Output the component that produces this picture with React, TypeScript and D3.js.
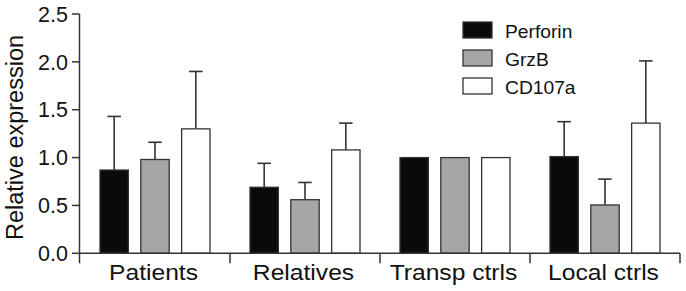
import React from "react";
import * as d3 from "d3";

const categories = ["Patients", "Relatives", "Transp ctrls", "Local ctrls"];
const seriesNames = ["Perforin", "GrzB", "CD107a"];
const perforinMean = [0.87, 0.69, 1.0, 1.01];
const perforinErr = [0.56, 0.25, 0, 0.365];
const grzbMean = [0.98, 0.56, 1.0, 0.505];
const grzbErr = [0.18, 0.18, 0, 0.27];
const cd107aMean = [1.3, 1.08, 1.0, 1.36];
const cd107aErr = [0.6, 0.28, 0, 0.65];
const yTicks = [0, 0.5, 1.0, 1.5, 2.0, 2.5];

const fills = ["#0a0a0a", "#a6a6a6", "#ffffff"];
const means = [perforinMean, grzbMean, cd107aMean];
const errs = [perforinErr, grzbErr, cd107aErr];

export default function App() {
  const W = 686, H = 291;
  const x0 = d3.scaleBand<string>().domain(categories).range([80, 680]).padding(0);
  const x1 = d3
    .scaleBand<string>()
    .domain(seriesNames)
    .range([20, 130])
    .paddingInner(0.305)
    .paddingOuter(0);
  const y = d3.scaleLinear().domain([0, 2.5]).range([253.3, 14]);
  const stroke = "#333";
  const font = "'Liberation Sans', Arial, Helvetica, sans-serif";
  const capW = 13.5;

  return (
    <svg
      width={W}
      height={H}
      style={{ position: "absolute", left: 0, top: 0, background: "#fff" }}
      fontFamily={font}
    >
      {/* bars */}
      {categories.map((c, ci) => (
        <g key={c}>
          {seriesNames.map((s, si) => {
            const bx = (x0(c) as number) + (x1(s) as number);
            const bw = x1.bandwidth();
            const m = means[si][ci];
            const e = errs[si][ci];
            const cx = bx + bw / 2;
            return (
              <g key={s}>
                {e > 0 && (
                  <g stroke={stroke} strokeWidth={1.6}>
                    <line x1={cx} x2={cx} y1={y(m)} y2={y(m + e)} />
                    <line x1={cx - capW / 2} x2={cx + capW / 2} y1={y(m + e)} y2={y(m + e)} />
                  </g>
                )}
                <rect
                  x={bx}
                  y={y(m)}
                  width={bw}
                  height={y(0) - y(m)}
                  fill={fills[si]}
                  stroke={stroke}
                  strokeWidth={1.3}
                />
              </g>
            );
          })}
        </g>
      ))}

      {/* y axis */}
      <line x1={79.5} x2={79.5} y1={y(2.5)} y2={y(0)} stroke={stroke} strokeWidth={1.5} />
      {yTicks.map((t) => (
        <g key={t}>
          <line x1={72} x2={79.5} y1={y(t)} y2={y(t)} stroke={stroke} strokeWidth={1.5} />
          <text
            x={68}
            y={y(t)}
            dy="0.36em"
            textAnchor="end"
            fontSize={21.5}
            fill="#111"
          >
            {t.toFixed(1)}
          </text>
        </g>
      ))}

      {/* x axis */}
      <line x1={79.5} x2={680} y1={y(0)} y2={y(0)} stroke={stroke} strokeWidth={1.5} />
      {[...categories.map((c) => x0(c) as number), 680].map((tx, i) => (
        <line
          key={i}
          x1={i === 0 ? 79.5 : tx}
          x2={i === 0 ? 79.5 : tx}
          y1={y(0)}
          y2={y(0) + 10}
          stroke={stroke}
          strokeWidth={1.5}
        />
      ))}
      {categories.map((c) => (
        <text
          key={c}
          transform={`translate(${(x0(c) as number) + x0.bandwidth() / 2 - 1.5},279.5) scale(1.12,1)`}
          textAnchor="middle"
          fontSize={22}
          fill="#111"
        >
          {c}
        </text>
      ))}

      {/* y label */}
      <text
        transform="translate(23,137.5) rotate(-90)"
        textAnchor="middle"
        fontSize={23.5}
        fill="#111"
      >
        Relative expression
      </text>

      {/* legend */}
      {seriesNames.map((s, i) => (
        <g key={s} transform={`translate(463,${22 + i * 28})`}>
          <rect x={0} y={0} width={29} height={16} fill={fills[i]} stroke={stroke} strokeWidth={1.3} />
          <text
            transform="translate(42,15.5) scale(1.1,1)"
            fontSize={17.5}
            fill="#111"
          >
            {s}
          </text>
        </g>
      ))}
    </svg>
  );
}
